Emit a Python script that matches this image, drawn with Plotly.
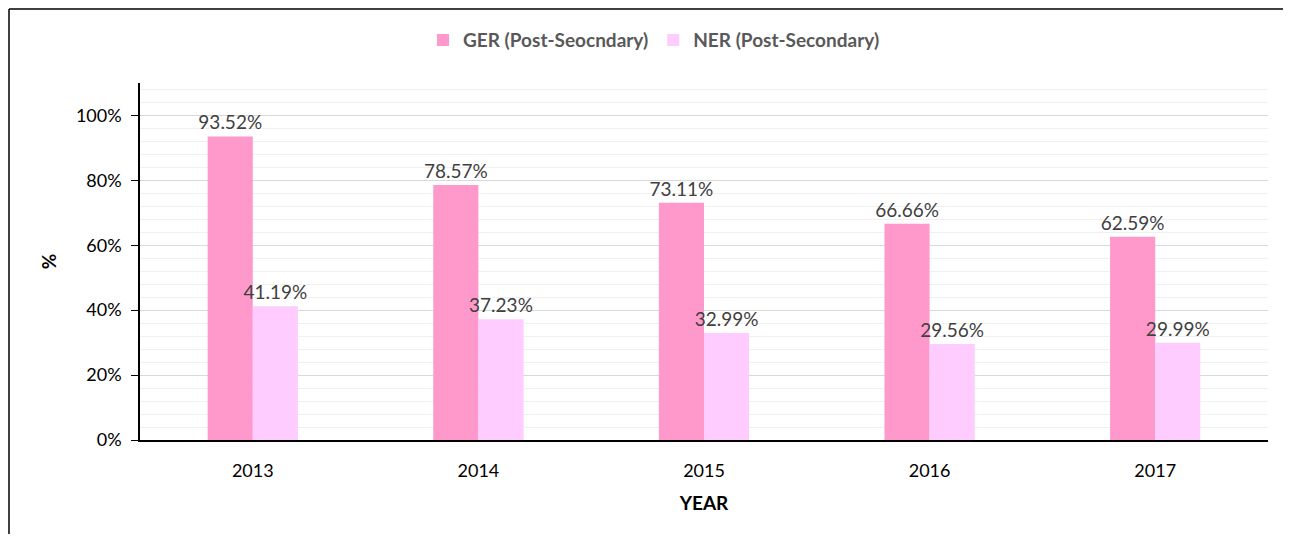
import plotly.graph_objects as go

years = ["2013", "2014", "2015", "2016", "2017"]
ger = [93.52, 78.57, 73.11, 66.66, 62.59]
ner = [41.19, 37.23, 32.99, 29.56, 29.99]

FONT = "Lato"

# page has an 8px body margin; figure coords = screenshot coords - 8
W, H = 1275, 526
L, R, T, B = 132, 15, 75, 94
PW, PH = W - L - R, H - T - B

fig = go.Figure()
for name, vals, col in [("GER (Post-Seocndary)", ger, "#FF99CC"),
                        ("NER (Post-Secondary)", ner, "#FFCCFF")]:
    fig.add_trace(go.Bar(
        x=years, y=vals, name=name,
        marker=dict(color=col, line=dict(width=0)),
        text=[f"{v:.2f}%" for v in vals], textposition="outside",
        constraintext="none",
        textfont=dict(family=FONT, size=19, color="#404040"), cliponaxis=False,
    ))

border = dict(color="black", width=1.5)
fig.update_layout(
    width=W, height=H,
    margin=dict(l=L, r=R, t=T, b=B),
    paper_bgcolor="white", plot_bgcolor="white",
    barmode="group", bargap=0.6, bargroupgap=0,
    font=dict(family=FONT, size=18, color="black"),
    legend=dict(orientation="h", x=0.4557, xanchor="center", y=1.12, yanchor="middle",
                font=dict(family=FONT, size=19, color="#595959", weight="bold"),
                itemwidth=30, traceorder="normal"),
    xaxis=dict(
        showline=True, linecolor="black", linewidth=1.5, ticks="",
        tickfont=dict(family=FONT, size=18, color="black"),
        ticklabelstandoff=14,
        title=dict(text="<b>YEAR</b>", font=dict(family=FONT, size=19, color="black"), standoff=16),
    ),
    yaxis=dict(
        range=[0, 110], dtick=20, ticksuffix="%",
        showline=True, linecolor="black", linewidth=1.5,
        ticks="outside", ticklen=7, tickcolor="black",
        ticklabelstandoff=6,
        showgrid=True, gridcolor="#D9D9D9", gridwidth=1,
        minor=dict(dtick=4, showgrid=True, gridcolor="#F0F0F0", gridwidth=1),
        tickfont=dict(family=FONT, size=18, color="black"),
        title=dict(text="<b>%</b>", font=dict(family=FONT, size=19, color="black"), standoff=14),
        zeroline=False,
    ),
    shapes=[
        dict(type="line", xref="paper", yref="paper",
             x0=(1 - L) / PW, x1=(W - L) / PW,
             y0=(PH + T - 1) / PH, y1=(PH + T - 1) / PH, line=border, layer="below"),
        dict(type="line", xref="paper", yref="paper",
             x0=(1 - L) / PW, x1=(1 - L) / PW,
             y0=(PH + T - 1) / PH, y1=-(H - T - PH) / PH, line=border, layer="below"),
    ],
)

fig.write_html("out.html")
